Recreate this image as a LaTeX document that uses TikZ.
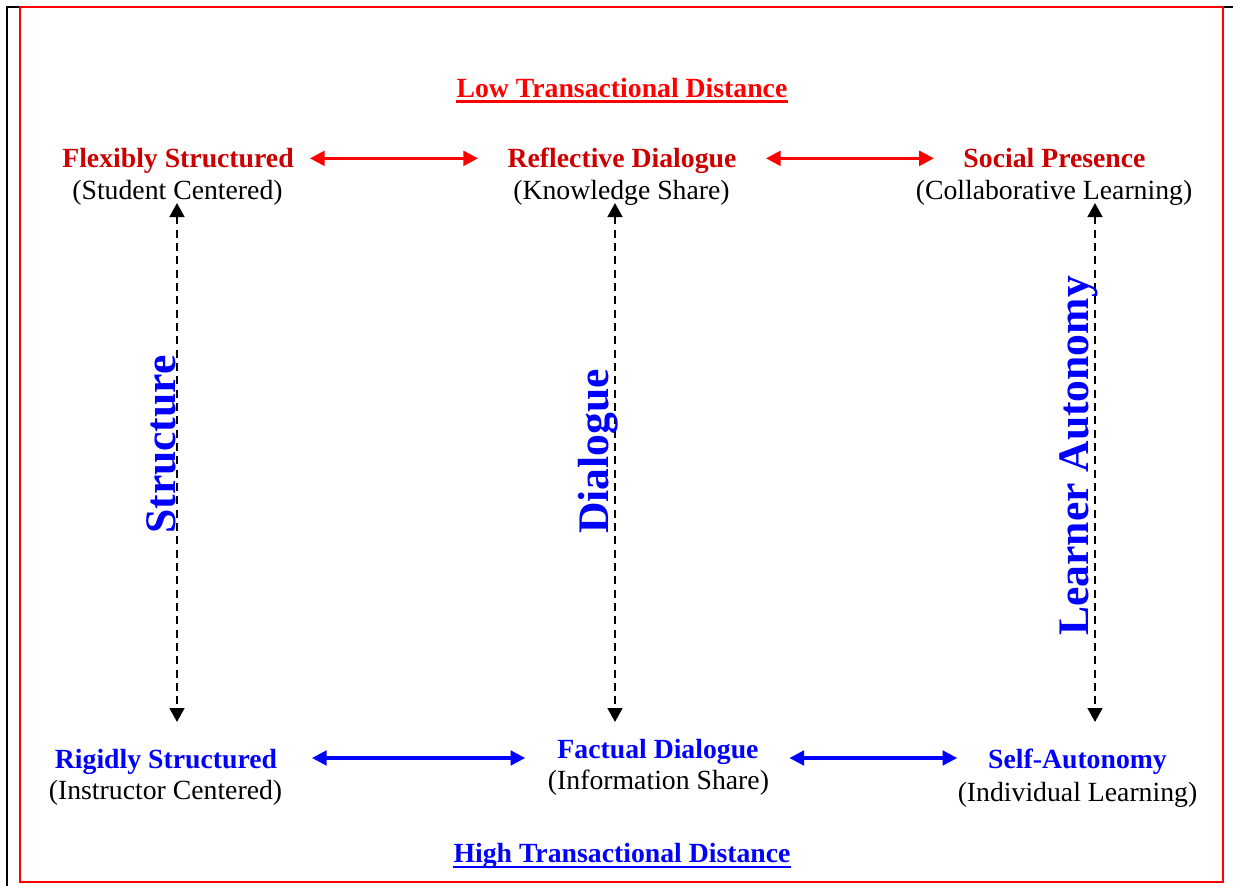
\documentclass[tikz,border=0pt]{standalone}
\usepackage{fontspec}
\setmainfont{Liberation Serif}
\usetikzlibrary{arrows.meta}
\definecolor{darkred}{RGB}{204,0,0}
\tikzset{
  ttl/.style={font=\fontsize{20.8}{24}\selectfont\bfseries, anchor=base, inner sep=0pt},
  sub/.style={font=\fontsize{20.8}{24}\selectfont, anchor=base, inner sep=0pt},
  axislabel/.style={font=\fontsize{32.7}{38}\selectfont\bfseries, text=blue, rotate=90, anchor=base west, inner sep=0pt},
  redarrow/.style={red, line width=2.3pt, {Triangle[length=11pt,width=11pt]}-{Triangle[length=11pt,width=11pt]}},
  bluearrow/.style={blue, line width=2.3pt, {Triangle[length=11pt,width=11pt]}-{Triangle[length=11pt,width=11pt]}},
  axisarrow/.style={black, line width=1.9pt, dash pattern=on 6pt off 4pt, {Triangle[length=10.5pt,width=11pt]}-{Triangle[length=10.5pt,width=11pt]}},
  uline/.style={line width=1.8pt}
}
\begin{document}
\begin{tikzpicture}[x=0.75pt,y=-0.75pt]
\useasboundingbox (0,0) rectangle (1233,886);

% frames
\draw[black, line width=1.5pt] (7,886) -- (7,7) -- (1233,7);
\draw[red, line width=1.5pt] (20,7) rectangle (1223,882);

% top and bottom headings
\node[ttl, text=red] (low) at (622,97) {Low Transactional Distance};
\draw[uline, red] ([yshift=-3.3pt]low.base west) -- ([yshift=-3.3pt]low.base east);
\node[ttl, text=blue] (high) at (622,862) {High Transactional Distance};
\draw[uline, blue] ([yshift=-3.8pt]high.base west) -- ([yshift=-3.8pt]high.base east);

% top row
\node[ttl, text=darkred] (fs) at (178,167) {Flexibly Structured};
\node[sub] (fss) at (177.5,199) {(Student Centered)};
\node[ttl, text=darkred] (rd) at (622,167) {Reflective Dialogue};
\node[sub] (rds) at (621.5,199) {(Knowledge Share)};
\node[ttl, text=darkred] (sp) at (1054.5,167) {Social Presence};
\node[sub] (sps) at (1054,199) {(Collaborative Learning)};

% bottom row
\node[ttl, text=blue] (rs) at (166,768) {Rigidly Structured};
\node[sub] (rss) at (165.5,799) {(Instructor Centered)};
\node[ttl, text=blue] (fd) at (658,758) {Factual Dialogue};
\node[sub] (fds) at (658.5,789) {(Information Share)};
\node[ttl, text=blue] (sa) at (1077.5,768) {Self-Autonomy};
\node[sub] (sas) at (1077.5,801) {(Individual Learning)};

% horizontal arrows
\draw[redarrow, shorten <=12pt, shorten >=22pt] ([yshift=6.5pt]fs.base east) -- ([yshift=6.5pt]fs.base east -| rd.west);
\draw[redarrow, shorten <=22pt, shorten >=22pt] ([yshift=6.5pt]rd.base east) -- ([yshift=6.5pt]rd.base east -| sp.west);
\draw[bluearrow, shorten <=26pt, shorten >=24pt] ([yshift=7.5pt]rs.base east) -- ([yshift=7.5pt]rs.base east -| fd.west);
\draw[bluearrow, shorten <=23pt, shorten >=23pt] ([yshift=7.5pt]sa.base west -| fd.east) -- ([yshift=7.5pt]sa.base west);

% vertical axes
\coordinate (stop) at (177,203);
\coordinate (sbot) at (177,722);
\coordinate (dtop) at (615,203);
\coordinate (dbot) at (615,722);
\coordinate (ltop) at (1095,203);
\coordinate (lbot) at (1095,722);
\draw[axisarrow] (stop) -- (sbot);
\draw[axisarrow] (dtop) -- (dbot);
\draw[axisarrow] (ltop) -- (lbot);
\node[axislabel] (structure) at (175,534) {Structure};
\node[axislabel] (dialogue) at (608,534) {Dialogue};
\node[axislabel] (autonomy) at (1088,636) {Learner Autonomy};
\end{tikzpicture}
\end{document}
